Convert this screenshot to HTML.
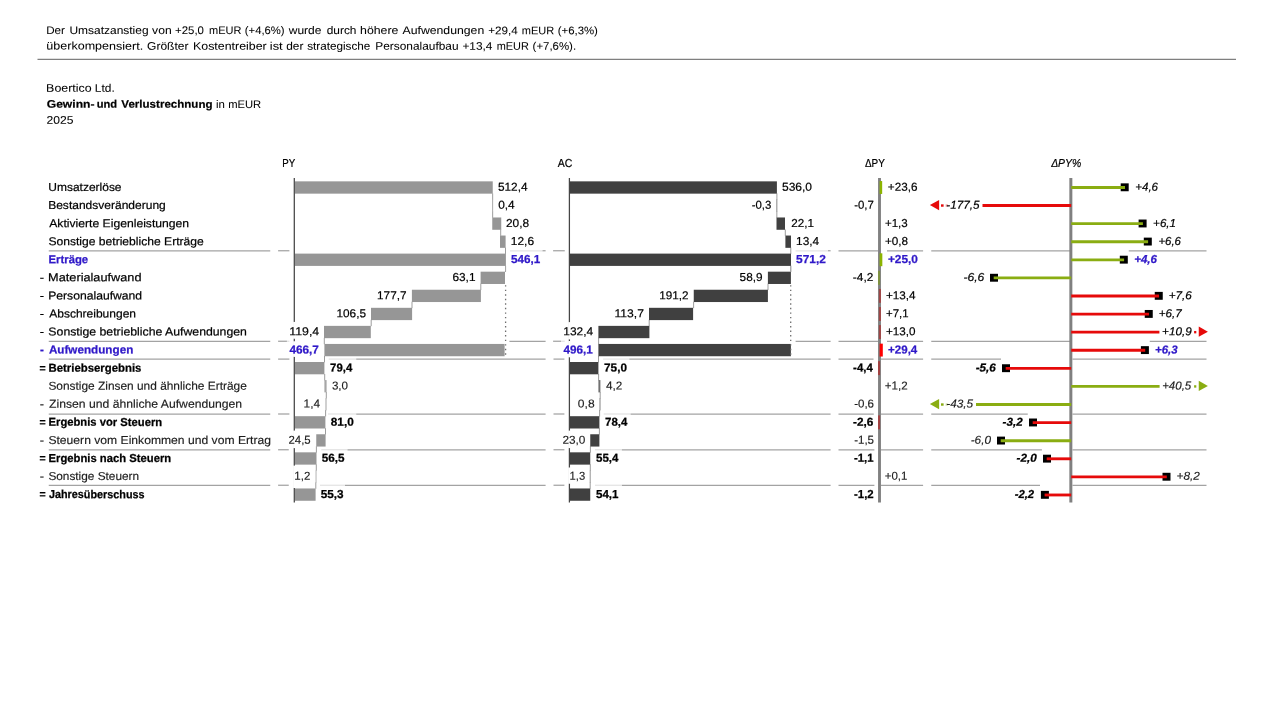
<!DOCTYPE html>
<html lang="de">
<head>
<meta charset="utf-8">
<title>Boertico Ltd. – Gewinn- und Verlustrechnung 2025</title>
<style>
html,body{margin:0;padding:0;background:#fff;}
body{width:1280px;height:720px;overflow:hidden;}
svg{display:block;font-family:"Liberation Sans",sans-serif;font-size:11.5px;fill:#000;}
svg text{white-space:pre;stroke:#000;stroke-width:0.2px;}
svg text[font-weight="700"],svg tspan[font-weight="700"]{stroke-width:0.25px;}
svg text.hl{fill:#2F18C8;stroke:#2F18C8;}
svg text.hd{stroke-width:0.05px;}
svg text.hd tspan[font-weight="700"]{stroke-width:0.2px;}
svg text.lt{fill:#1c1c1c;stroke:#1c1c1c;stroke-width:0.15px;}
</style>
</head>
<body>
<svg width="1280" height="720" viewBox="0 0 1280 720">
<rect width="1280" height="720" fill="#fff"/>
<g class="sep">
<line x1="48.75" y1="250.75" x2="270.25" y2="250.75" stroke="#a3a3a3" stroke-width="1.25"/>
<line x1="278.10" y1="250.75" x2="289.40" y2="250.75" stroke="#a3a3a3" stroke-width="1.25"/>
<line x1="510.00" y1="250.75" x2="542.50" y2="250.75" stroke="#a3a3a3" stroke-width="1.25" stroke-opacity="0.3"/>
<line x1="542.50" y1="250.75" x2="545.60" y2="250.75" stroke="#a3a3a3" stroke-width="1.25"/>
<line x1="553.10" y1="250.75" x2="564.75" y2="250.75" stroke="#a3a3a3" stroke-width="1.25"/>
<line x1="795.60" y1="250.75" x2="828.00" y2="250.75" stroke="#a3a3a3" stroke-width="1.25" stroke-opacity="0.3"/>
<line x1="828.00" y1="250.75" x2="830.60" y2="250.75" stroke="#a3a3a3" stroke-width="1.25"/>
<line x1="838.50" y1="250.75" x2="878.00" y2="250.75" stroke="#a3a3a3" stroke-width="1.25"/>
<line x1="887.00" y1="250.75" x2="923.10" y2="250.75" stroke="#a3a3a3" stroke-width="1.25"/>
<line x1="931.25" y1="250.75" x2="1070.00" y2="250.75" stroke="#a3a3a3" stroke-width="1.25"/>
<line x1="1128.75" y1="250.75" x2="1206.50" y2="250.75" stroke="#a3a3a3" stroke-width="1.25"/>
<line x1="48.75" y1="341.25" x2="270.25" y2="341.25" stroke="#a3a3a3" stroke-width="1.25"/>
<line x1="278.10" y1="341.25" x2="286.90" y2="341.25" stroke="#a3a3a3" stroke-width="1.25"/>
<line x1="286.90" y1="341.25" x2="289.40" y2="341.25" stroke="#a3a3a3" stroke-width="1.25" stroke-opacity="0.3"/>
<line x1="509.40" y1="341.25" x2="545.60" y2="341.25" stroke="#a3a3a3" stroke-width="1.25"/>
<line x1="553.10" y1="341.25" x2="561.00" y2="341.25" stroke="#a3a3a3" stroke-width="1.25"/>
<line x1="561.00" y1="341.25" x2="564.75" y2="341.25" stroke="#a3a3a3" stroke-width="1.25" stroke-opacity="0.3"/>
<line x1="795.60" y1="341.25" x2="830.60" y2="341.25" stroke="#a3a3a3" stroke-width="1.25"/>
<line x1="838.50" y1="341.25" x2="878.00" y2="341.25" stroke="#a3a3a3" stroke-width="1.25"/>
<line x1="887.00" y1="341.25" x2="923.10" y2="341.25" stroke="#a3a3a3" stroke-width="1.25"/>
<line x1="931.25" y1="341.25" x2="1070.00" y2="341.25" stroke="#a3a3a3" stroke-width="1.25"/>
<line x1="1149.75" y1="341.25" x2="1206.50" y2="341.25" stroke="#a3a3a3" stroke-width="1.25"/>
<line x1="48.75" y1="359.10" x2="270.25" y2="359.10" stroke="#a3a3a3" stroke-width="1.25"/>
<line x1="278.10" y1="359.10" x2="289.40" y2="359.10" stroke="#a3a3a3" stroke-width="1.25"/>
<line x1="328.75" y1="359.10" x2="356.25" y2="359.10" stroke="#a3a3a3" stroke-width="1.25" stroke-opacity="0.3"/>
<line x1="356.25" y1="359.10" x2="545.60" y2="359.10" stroke="#a3a3a3" stroke-width="1.25"/>
<line x1="553.50" y1="359.10" x2="564.40" y2="359.10" stroke="#a3a3a3" stroke-width="1.25"/>
<line x1="603.10" y1="359.10" x2="629.40" y2="359.10" stroke="#a3a3a3" stroke-width="1.25" stroke-opacity="0.3"/>
<line x1="629.40" y1="359.10" x2="830.60" y2="359.10" stroke="#a3a3a3" stroke-width="1.25"/>
<line x1="838.50" y1="359.10" x2="873.50" y2="359.10" stroke="#a3a3a3" stroke-width="1.25"/>
<line x1="881.00" y1="359.10" x2="923.10" y2="359.10" stroke="#a3a3a3" stroke-width="1.25"/>
<line x1="931.25" y1="359.10" x2="1001.00" y2="359.10" stroke="#a3a3a3" stroke-width="1.25"/>
<line x1="1072.50" y1="359.10" x2="1206.50" y2="359.10" stroke="#a3a3a3" stroke-width="1.25"/>
<line x1="48.75" y1="414.00" x2="270.25" y2="414.00" stroke="#a3a3a3" stroke-width="1.25"/>
<line x1="278.10" y1="414.00" x2="289.40" y2="414.00" stroke="#a3a3a3" stroke-width="1.25"/>
<line x1="328.00" y1="414.00" x2="356.25" y2="414.00" stroke="#a3a3a3" stroke-width="1.25" stroke-opacity="0.3"/>
<line x1="356.25" y1="414.00" x2="545.60" y2="414.00" stroke="#a3a3a3" stroke-width="1.25"/>
<line x1="553.50" y1="414.00" x2="564.40" y2="414.00" stroke="#a3a3a3" stroke-width="1.25"/>
<line x1="603.75" y1="414.00" x2="630.60" y2="414.00" stroke="#a3a3a3" stroke-width="1.25" stroke-opacity="0.3"/>
<line x1="630.60" y1="414.00" x2="830.60" y2="414.00" stroke="#a3a3a3" stroke-width="1.25"/>
<line x1="838.50" y1="414.00" x2="873.75" y2="414.00" stroke="#a3a3a3" stroke-width="1.25"/>
<line x1="881.00" y1="414.00" x2="923.10" y2="414.00" stroke="#a3a3a3" stroke-width="1.25"/>
<line x1="931.25" y1="414.00" x2="1027.75" y2="414.00" stroke="#a3a3a3" stroke-width="1.25"/>
<line x1="1072.50" y1="414.00" x2="1206.50" y2="414.00" stroke="#a3a3a3" stroke-width="1.25"/>
<line x1="48.75" y1="449.75" x2="270.25" y2="449.75" stroke="#a3a3a3" stroke-width="1.25"/>
<line x1="278.10" y1="449.75" x2="288.75" y2="449.75" stroke="#a3a3a3" stroke-width="1.25"/>
<line x1="321.25" y1="449.75" x2="347.50" y2="449.75" stroke="#a3a3a3" stroke-width="1.25" stroke-opacity="0.3"/>
<line x1="347.50" y1="449.75" x2="545.60" y2="449.75" stroke="#a3a3a3" stroke-width="1.25"/>
<line x1="553.50" y1="449.75" x2="564.40" y2="449.75" stroke="#a3a3a3" stroke-width="1.25"/>
<line x1="595.00" y1="449.75" x2="621.90" y2="449.75" stroke="#a3a3a3" stroke-width="1.25" stroke-opacity="0.3"/>
<line x1="621.90" y1="449.75" x2="830.60" y2="449.75" stroke="#a3a3a3" stroke-width="1.25"/>
<line x1="838.50" y1="449.75" x2="874.40" y2="449.75" stroke="#a3a3a3" stroke-width="1.25"/>
<line x1="881.00" y1="449.75" x2="923.10" y2="449.75" stroke="#a3a3a3" stroke-width="1.25"/>
<line x1="931.25" y1="449.75" x2="1041.90" y2="449.75" stroke="#a3a3a3" stroke-width="1.25"/>
<line x1="1072.50" y1="449.75" x2="1206.50" y2="449.75" stroke="#a3a3a3" stroke-width="1.25"/>
<line x1="48.75" y1="485.25" x2="270.25" y2="485.25" stroke="#a3a3a3" stroke-width="1.25"/>
<line x1="278.10" y1="485.25" x2="288.75" y2="485.25" stroke="#a3a3a3" stroke-width="1.25"/>
<line x1="320.00" y1="485.25" x2="345.00" y2="485.25" stroke="#a3a3a3" stroke-width="1.25" stroke-opacity="0.3"/>
<line x1="345.00" y1="485.25" x2="545.60" y2="485.25" stroke="#a3a3a3" stroke-width="1.25"/>
<line x1="553.50" y1="485.25" x2="564.40" y2="485.25" stroke="#a3a3a3" stroke-width="1.25"/>
<line x1="595.00" y1="485.25" x2="621.90" y2="485.25" stroke="#a3a3a3" stroke-width="1.25" stroke-opacity="0.3"/>
<line x1="621.90" y1="485.25" x2="830.60" y2="485.25" stroke="#a3a3a3" stroke-width="1.25"/>
<line x1="838.50" y1="485.25" x2="874.40" y2="485.25" stroke="#a3a3a3" stroke-width="1.25"/>
<line x1="881.00" y1="485.25" x2="923.10" y2="485.25" stroke="#a3a3a3" stroke-width="1.25"/>
<line x1="931.25" y1="485.25" x2="1040.00" y2="485.25" stroke="#a3a3a3" stroke-width="1.25"/>
<line x1="1072.50" y1="485.25" x2="1206.50" y2="485.25" stroke="#a3a3a3" stroke-width="1.25"/>
</g>
<g class="shape">
<line x1="37.50" y1="59.40" x2="1236.00" y2="59.40" stroke="#7f7f7f" stroke-width="1.1"/>
<line x1="492.65" y1="193.35" x2="492.65" y2="199.72" stroke="#929292" stroke-width="0.9"/>
<line x1="492.65" y1="211.41" x2="492.65" y2="217.78" stroke="#929292" stroke-width="0.9"/>
<line x1="500.70" y1="229.48" x2="500.70" y2="235.84" stroke="#929292" stroke-width="0.9"/>
<line x1="505.50" y1="247.54" x2="505.50" y2="253.91" stroke="#929292" stroke-width="0.9"/>
<line x1="505.50" y1="265.61" x2="505.50" y2="271.98" stroke="#929292" stroke-width="0.9"/>
<line x1="480.80" y1="283.67" x2="480.80" y2="290.04" stroke="#929292" stroke-width="0.9"/>
<line x1="412.00" y1="301.74" x2="412.00" y2="308.11" stroke="#929292" stroke-width="0.9"/>
<line x1="371.20" y1="319.81" x2="371.20" y2="326.17" stroke="#929292" stroke-width="0.9"/>
<line x1="324.30" y1="337.87" x2="324.30" y2="344.24" stroke="#929292" stroke-width="0.9"/>
<line x1="324.50" y1="355.94" x2="324.50" y2="362.30" stroke="#929292" stroke-width="0.9"/>
<line x1="324.70" y1="374.00" x2="324.70" y2="380.37" stroke="#929292" stroke-width="0.9"/>
<line x1="326.30" y1="392.06" x2="326.30" y2="398.43" stroke="#929292" stroke-width="0.9"/>
<line x1="325.60" y1="410.13" x2="325.60" y2="416.50" stroke="#929292" stroke-width="0.9"/>
<line x1="325.50" y1="428.19" x2="325.50" y2="434.56" stroke="#929292" stroke-width="0.9"/>
<line x1="316.40" y1="446.26" x2="316.40" y2="452.63" stroke="#929292" stroke-width="0.9"/>
<line x1="316.30" y1="464.32" x2="316.30" y2="470.69" stroke="#929292" stroke-width="0.9"/>
<line x1="315.80" y1="482.39" x2="315.80" y2="488.76" stroke="#929292" stroke-width="0.9"/>
<rect x="294.90" y="181.35" width="197.85" height="12.30" fill="#969696"/>
<rect x="492.20" y="199.41" width="0.90" height="12.30" fill="#969696" fill-opacity="0.9"/>
<rect x="492.25" y="217.48" width="9.00" height="12.30" fill="#969696"/>
<rect x="500.00" y="235.54" width="5.60" height="12.30" fill="#969696"/>
<rect x="294.90" y="253.61" width="211.00" height="12.30" fill="#969696"/>
<rect x="480.60" y="271.68" width="24.40" height="12.30" fill="#969696"/>
<rect x="411.90" y="289.74" width="69.00" height="12.30" fill="#969696"/>
<rect x="371.00" y="307.81" width="41.10" height="12.30" fill="#969696"/>
<rect x="324.00" y="325.87" width="46.80" height="12.30" fill="#969696"/>
<rect x="324.40" y="343.94" width="180.20" height="12.30" fill="#969696"/>
<rect x="294.90" y="362.00" width="29.50" height="12.30" fill="#969696"/>
<rect x="324.40" y="380.07" width="2.20" height="12.30" fill="#969696" fill-opacity="0.85"/>
<rect x="325.20" y="398.13" width="1.60" height="12.30" fill="#969696" fill-opacity="0.55"/>
<rect x="294.90" y="416.20" width="30.50" height="12.30" fill="#969696"/>
<rect x="316.25" y="434.26" width="9.35" height="12.30" fill="#969696"/>
<rect x="294.90" y="452.33" width="21.60" height="12.30" fill="#969696"/>
<rect x="315.40" y="470.39" width="1.30" height="12.30" fill="#969696" fill-opacity="0.55"/>
<rect x="294.90" y="488.46" width="20.70" height="12.30" fill="#969696"/>
<line x1="505.60" y1="285.17" x2="505.60" y2="356.74" stroke="#6e6e6e" stroke-width="1.3" stroke-dasharray="1.4 3.14"/>
<line x1="505.60" y1="265.91" x2="505.60" y2="271.68" stroke="#a8a8a8" stroke-width="1"/>
<line x1="776.90" y1="193.35" x2="776.90" y2="199.72" stroke="#929292" stroke-width="0.9"/>
<line x1="776.85" y1="211.41" x2="776.85" y2="217.78" stroke="#929292" stroke-width="0.9"/>
<line x1="785.30" y1="229.48" x2="785.30" y2="235.84" stroke="#929292" stroke-width="0.9"/>
<line x1="790.80" y1="247.54" x2="790.80" y2="253.91" stroke="#929292" stroke-width="0.9"/>
<line x1="790.80" y1="265.61" x2="790.80" y2="271.98" stroke="#929292" stroke-width="0.9"/>
<line x1="768.00" y1="283.67" x2="768.00" y2="290.04" stroke="#929292" stroke-width="0.9"/>
<line x1="693.60" y1="301.74" x2="693.60" y2="308.11" stroke="#929292" stroke-width="0.9"/>
<line x1="649.20" y1="319.81" x2="649.20" y2="326.17" stroke="#929292" stroke-width="0.9"/>
<line x1="598.60" y1="337.87" x2="598.60" y2="344.24" stroke="#929292" stroke-width="0.9"/>
<line x1="598.50" y1="355.94" x2="598.50" y2="362.30" stroke="#929292" stroke-width="0.9"/>
<line x1="598.60" y1="374.00" x2="598.60" y2="380.37" stroke="#929292" stroke-width="0.9"/>
<line x1="600.20" y1="392.06" x2="600.20" y2="398.43" stroke="#929292" stroke-width="0.9"/>
<line x1="599.60" y1="410.13" x2="599.60" y2="416.50" stroke="#929292" stroke-width="0.9"/>
<line x1="599.40" y1="428.19" x2="599.40" y2="434.56" stroke="#929292" stroke-width="0.9"/>
<line x1="590.40" y1="446.26" x2="590.40" y2="452.63" stroke="#929292" stroke-width="0.9"/>
<line x1="590.30" y1="464.32" x2="590.30" y2="470.69" stroke="#929292" stroke-width="0.9"/>
<line x1="590.20" y1="482.39" x2="590.20" y2="488.76" stroke="#929292" stroke-width="0.9"/>
<rect x="569.90" y="181.35" width="207.00" height="12.30" fill="#404040"/>
<rect x="776.40" y="199.41" width="0.90" height="12.30" fill="#404040" fill-opacity="0.7"/>
<rect x="776.50" y="217.48" width="8.50" height="12.30" fill="#404040"/>
<rect x="785.40" y="235.54" width="5.60" height="12.30" fill="#404040"/>
<rect x="569.90" y="253.61" width="221.10" height="12.30" fill="#404040"/>
<rect x="767.90" y="271.68" width="23.00" height="12.30" fill="#404040"/>
<rect x="693.75" y="289.74" width="74.15" height="12.30" fill="#404040"/>
<rect x="649.00" y="307.81" width="44.10" height="12.30" fill="#404040"/>
<rect x="598.40" y="325.87" width="51.00" height="12.30" fill="#404040"/>
<rect x="598.40" y="343.94" width="192.50" height="12.30" fill="#404040"/>
<rect x="569.90" y="362.00" width="28.50" height="12.30" fill="#404040"/>
<rect x="598.40" y="380.07" width="2.00" height="12.30" fill="#404040" fill-opacity="0.75"/>
<rect x="599.40" y="398.13" width="1.20" height="12.30" fill="#404040" fill-opacity="0.55"/>
<rect x="569.90" y="416.20" width="29.50" height="12.30" fill="#404040"/>
<rect x="590.25" y="434.26" width="9.15" height="12.30" fill="#404040"/>
<rect x="569.90" y="452.33" width="20.35" height="12.30" fill="#404040"/>
<rect x="589.70" y="470.39" width="1.00" height="12.30" fill="#404040" fill-opacity="0.55"/>
<rect x="569.90" y="488.46" width="20.35" height="12.30" fill="#404040"/>
<line x1="790.70" y1="285.17" x2="790.70" y2="356.74" stroke="#6e6e6e" stroke-width="1.3" stroke-dasharray="1.4 3.14"/>
<line x1="790.70" y1="265.91" x2="790.70" y2="271.68" stroke="#a8a8a8" stroke-width="1"/>
</g>
<g class="axis">
<line x1="294.30" y1="178.00" x2="294.30" y2="502.50" stroke="#454545" stroke-width="1.25"/>
<line x1="569.40" y1="178.00" x2="569.40" y2="502.50" stroke="#454545" stroke-width="1.25"/>
<line x1="879.50" y1="178.00" x2="879.50" y2="502.50" stroke="#808080" stroke-width="2.9"/>
<rect x="879.60" y="181.05" width="2.57" height="12.90" fill="#8CB400"/>
<rect x="879.60" y="253.31" width="2.73" height="12.90" fill="#8CB400"/>
<rect x="878.00" y="270.88" width="2.10" height="13.90" fill="#7aa000" fill-opacity="0.5"/>
<rect x="878.90" y="288.94" width="2.10" height="13.90" fill="#c00000" fill-opacity="0.45"/>
<rect x="878.90" y="307.01" width="2.10" height="13.90" fill="#c00000" fill-opacity="0.45"/>
<rect x="878.90" y="325.07" width="2.10" height="13.90" fill="#c00000" fill-opacity="0.45"/>
<rect x="879.60" y="343.64" width="3.20" height="12.90" fill="#FF0000"/>
<rect x="878.00" y="361.20" width="2.10" height="13.90" fill="#c00000" fill-opacity="0.5"/>
<rect x="878.00" y="415.40" width="2.10" height="13.90" fill="#c00000" fill-opacity="0.5"/>
<line x1="1070.85" y1="178.00" x2="1070.85" y2="502.50" stroke="#808080" stroke-width="3.0"/>
<rect x="1120.70" y="183.35" width="8.00" height="7.90" fill="#000"/>
<line x1="1071.20" y1="187.45" x2="1125.00" y2="187.45" stroke="#8AAD12" stroke-width="2.85"/>
<line x1="982.50" y1="205.54" x2="1071.20" y2="205.54" stroke="#E60A0A" stroke-width="2.85"/>
<rect x="941.00" y="204.34" width="2.60" height="2.40" fill="#E60A0A"/>
<rect x="945.60" y="204.34" width="2.40" height="2.40" fill="#E60A0A" fill-opacity="0.35"/>
<path d="M939.1 199.94 L929.9 205.04 L939.1 210.14 Z" fill="#E60A0A"/>
<rect x="1138.60" y="219.53" width="8.00" height="7.90" fill="#000"/>
<line x1="1071.20" y1="223.63" x2="1142.90" y2="223.63" stroke="#8AAD12" stroke-width="2.85"/>
<rect x="1143.80" y="237.62" width="8.00" height="7.90" fill="#000"/>
<line x1="1071.20" y1="241.72" x2="1148.10" y2="241.72" stroke="#8AAD12" stroke-width="2.85"/>
<rect x="1119.80" y="255.71" width="8.00" height="7.90" fill="#000"/>
<line x1="1071.20" y1="259.81" x2="1124.10" y2="259.81" stroke="#8AAD12" stroke-width="2.85"/>
<rect x="990.00" y="273.80" width="8.00" height="7.90" fill="#000"/>
<line x1="993.70" y1="277.90" x2="1071.20" y2="277.90" stroke="#8AAD12" stroke-width="2.85"/>
<rect x="1154.75" y="291.89" width="8.00" height="7.90" fill="#000"/>
<line x1="1071.20" y1="295.99" x2="1159.05" y2="295.99" stroke="#E60A0A" stroke-width="2.85"/>
<rect x="1144.75" y="309.98" width="8.00" height="7.90" fill="#000"/>
<line x1="1071.20" y1="314.08" x2="1149.05" y2="314.08" stroke="#E60A0A" stroke-width="2.85"/>
<line x1="1071.20" y1="332.17" x2="1159.40" y2="332.17" stroke="#E60A0A" stroke-width="2.85"/>
<rect x="1194.10" y="330.97" width="2.20" height="2.40" fill="#E60A0A"/>
<path d="M1198.75 326.57 L1207.9 331.67 L1198.75 336.77 Z" fill="#E60A0A"/>
<rect x="1140.90" y="346.16" width="8.00" height="7.90" fill="#000"/>
<line x1="1071.20" y1="350.26" x2="1145.20" y2="350.26" stroke="#E60A0A" stroke-width="2.85"/>
<rect x="1002.00" y="364.25" width="8.00" height="7.90" fill="#000"/>
<line x1="1005.70" y1="368.35" x2="1071.20" y2="368.35" stroke="#E60A0A" stroke-width="2.85"/>
<line x1="1071.20" y1="386.44" x2="1159.60" y2="386.44" stroke="#8AAD12" stroke-width="2.85"/>
<rect x="1194.10" y="385.24" width="2.20" height="2.40" fill="#8AAD12"/>
<path d="M1198.75 380.84 L1207.9 385.94 L1198.75 391.04 Z" fill="#8AAD12"/>
<line x1="976.00" y1="404.53" x2="1071.20" y2="404.53" stroke="#8AAD12" stroke-width="2.85"/>
<rect x="941.00" y="403.33" width="2.60" height="2.40" fill="#8AAD12"/>
<rect x="945.60" y="403.33" width="2.40" height="2.40" fill="#8AAD12" fill-opacity="0.35"/>
<path d="M939.1 398.93 L929.9 404.03 L939.1 409.13 Z" fill="#8AAD12"/>
<rect x="1029.00" y="418.52" width="8.00" height="7.90" fill="#000"/>
<line x1="1032.70" y1="422.62" x2="1071.20" y2="422.62" stroke="#E60A0A" stroke-width="2.85"/>
<rect x="997.00" y="436.61" width="8.00" height="7.90" fill="#000"/>
<line x1="1000.70" y1="440.71" x2="1071.20" y2="440.71" stroke="#8AAD12" stroke-width="2.85"/>
<rect x="1043.00" y="454.70" width="8.00" height="7.90" fill="#000"/>
<line x1="1046.70" y1="458.80" x2="1071.20" y2="458.80" stroke="#E60A0A" stroke-width="2.85"/>
<rect x="1162.50" y="472.79" width="8.00" height="7.90" fill="#000"/>
<line x1="1071.20" y1="476.89" x2="1166.80" y2="476.89" stroke="#E60A0A" stroke-width="2.85"/>
<rect x="1040.90" y="490.88" width="8.00" height="7.90" fill="#000"/>
<line x1="1044.60" y1="494.98" x2="1071.20" y2="494.98" stroke="#E60A0A" stroke-width="2.85"/>
</g>
<g class="box">
<rect x="293.10" y="321.90" width="2.40" height="16.85" fill="#fff"/>
<rect x="293.10" y="341.25" width="2.40" height="15.65" fill="#fff"/>
<rect x="293.10" y="430.60" width="2.40" height="17.50" fill="#fff"/>
<rect x="293.10" y="465.60" width="2.40" height="22.40" fill="#fff"/>
<rect x="568.20" y="322.10" width="2.40" height="17.30" fill="#fff"/>
<rect x="568.20" y="341.00" width="2.40" height="16.30" fill="#fff"/>
<rect x="568.20" y="430.60" width="2.40" height="17.50" fill="#fff"/>
<rect x="568.20" y="467.50" width="2.40" height="16.25" fill="#fff"/>
</g>
<g class="text">
<text class="hd" y="33.9" transform="rotate(0.03 46 33.9)" font-size="11"><tspan x="46.16" textLength="18.74" lengthAdjust="spacingAndGlyphs">Der</tspan> <tspan x="69.44" textLength="79.13" lengthAdjust="spacingAndGlyphs">Umsatzanstieg</tspan> <tspan x="152.08" textLength="19.56" lengthAdjust="spacingAndGlyphs">von</tspan> <tspan x="175.11" textLength="28.86" lengthAdjust="spacingAndGlyphs">+25,0</tspan> <tspan x="208.97" textLength="32.40" lengthAdjust="spacingAndGlyphs">mEUR</tspan> <tspan x="244.83" textLength="39.79" lengthAdjust="spacingAndGlyphs">(+4,6%)</tspan> <tspan x="288.77" textLength="32.70" lengthAdjust="spacingAndGlyphs">wurde</tspan> <tspan x="326.71" textLength="29.79" lengthAdjust="spacingAndGlyphs">durch</tspan> <tspan x="360.05" textLength="38.36" lengthAdjust="spacingAndGlyphs">höhere</tspan> <tspan x="402.50" textLength="81.73" lengthAdjust="spacingAndGlyphs">Aufwendungen</tspan> <tspan x="488.20" textLength="29.54" lengthAdjust="spacingAndGlyphs">+29,4</tspan> <tspan x="521.77" textLength="32.40" lengthAdjust="spacingAndGlyphs">mEUR</tspan> <tspan x="557.73" textLength="40.19" lengthAdjust="spacingAndGlyphs">(+6,3%)</tspan></text>
<text class="hd" y="49.6" transform="rotate(0.03 46 49.6)" font-size="11"><tspan x="46.37" textLength="96.77" lengthAdjust="spacingAndGlyphs">überkompensiert.</tspan> <tspan x="147.10" textLength="41.35" lengthAdjust="spacingAndGlyphs">Größter</tspan> <tspan x="193.03" textLength="73.68" lengthAdjust="spacingAndGlyphs">Kostentreiber</tspan> <tspan x="269.88" textLength="12.78" lengthAdjust="spacingAndGlyphs">ist</tspan> <tspan x="286.21" textLength="17.15" lengthAdjust="spacingAndGlyphs">der</tspan> <tspan x="307.18" textLength="63.18" lengthAdjust="spacingAndGlyphs">strategische</tspan> <tspan x="375.35" textLength="83.20" lengthAdjust="spacingAndGlyphs">Personalaufbau</tspan> <tspan x="462.40" textLength="30.04" lengthAdjust="spacingAndGlyphs">+13,4</tspan> <tspan x="496.78" textLength="32.09" lengthAdjust="spacingAndGlyphs">mEUR</tspan> <tspan x="532.63" textLength="43.44" lengthAdjust="spacingAndGlyphs">(+7,6%).</tspan></text>
<text class="hd" y="91.8" transform="rotate(0.03 46 91.8)" font-size="11"><tspan x="46.13" textLength="45.48" lengthAdjust="spacingAndGlyphs">Boertico</tspan> <tspan x="94.85" textLength="19.94" lengthAdjust="spacingAndGlyphs">Ltd.</tspan></text>
<text class="hd" y="107.8" transform="rotate(0.03 46 107.8)" font-size="11"><tspan x="46.71" textLength="47.80" lengthAdjust="spacingAndGlyphs" font-weight="700">Gewinn-</tspan> <tspan x="96.67" textLength="20.46" lengthAdjust="spacingAndGlyphs" font-weight="700">und</tspan> <tspan x="121.37" textLength="91.19" lengthAdjust="spacingAndGlyphs" font-weight="700">Verlustrechnung</tspan> <tspan x="216.05" textLength="8.87" lengthAdjust="spacingAndGlyphs">in</tspan> <tspan x="228.17" textLength="33.01" lengthAdjust="spacingAndGlyphs">mEUR</tspan></text>
<text class="hd" y="123.8" transform="rotate(0.03 46 123.8)" font-size="11"><tspan x="46.63" textLength="26.92" lengthAdjust="spacingAndGlyphs">2025</tspan></text>
<text x="282.34" y="166.90" transform="rotate(0.03 282.34 166.90)" textLength="12.96" lengthAdjust="spacingAndGlyphs">PY</text>
<text x="557.81" y="166.90" transform="rotate(0.03 557.81 166.90)" textLength="14.60" lengthAdjust="spacingAndGlyphs">AC</text>
<text x="864.96" y="166.90" transform="rotate(0.03 864.96 166.90)" textLength="19.93" lengthAdjust="spacingAndGlyphs">ΔPY</text>
<text x="1051.13" y="166.90" transform="rotate(0.03 1051.13 166.90)" textLength="30.17" lengthAdjust="spacingAndGlyphs" font-style="italic">ΔPY%</text>
<text x="48.34" y="191.00" transform="rotate(0.03 48.34 191.00)" textLength="73.22" lengthAdjust="spacingAndGlyphs">Umsatzerlöse</text>
<text x="48.18" y="209.06" transform="rotate(0.03 48.18 209.06)" textLength="117.61" lengthAdjust="spacingAndGlyphs">Bestandsveränderung</text>
<text x="49.23" y="227.13" transform="rotate(0.03 49.23 227.13)" textLength="139.92" lengthAdjust="spacingAndGlyphs">Aktivierte Eigenleistungen</text>
<text x="48.40" y="245.19" transform="rotate(0.03 48.40 245.19)" textLength="155.34" lengthAdjust="spacingAndGlyphs">Sonstige betriebliche Erträge</text>
<text x="48.53" y="263.26" transform="rotate(0.03 48.53 263.26)" textLength="39.66" lengthAdjust="spacingAndGlyphs" font-weight="700" class="hl">Erträge</text>
<text x="39.75" y="281.32" transform="rotate(0.03 39.75 281.32)" textLength="4.32" lengthAdjust="spacingAndGlyphs">-</text>
<text x="48.14" y="281.32" transform="rotate(0.03 48.14 281.32)" textLength="93.35" lengthAdjust="spacingAndGlyphs">Materialaufwand</text>
<text x="39.75" y="299.39" transform="rotate(0.03 39.75 299.39)" textLength="4.32" lengthAdjust="spacingAndGlyphs">-</text>
<text x="48.17" y="299.39" transform="rotate(0.03 48.17 299.39)" textLength="93.95" lengthAdjust="spacingAndGlyphs">Personalaufwand</text>
<text x="39.75" y="317.46" transform="rotate(0.03 39.75 317.46)" textLength="4.32" lengthAdjust="spacingAndGlyphs">-</text>
<text x="49.22" y="317.46" transform="rotate(0.03 49.22 317.46)" textLength="86.78" lengthAdjust="spacingAndGlyphs">Abschreibungen</text>
<text x="39.75" y="335.52" transform="rotate(0.03 39.75 335.52)" textLength="4.32" lengthAdjust="spacingAndGlyphs">-</text>
<text x="48.39" y="335.52" transform="rotate(0.03 48.39 335.52)" textLength="198.55" lengthAdjust="spacingAndGlyphs">Sonstige betriebliche Aufwendungen</text>
<text x="39.99" y="353.59" transform="rotate(0.03 39.99 353.59)" textLength="3.89" lengthAdjust="spacingAndGlyphs" font-weight="700" class="hl">-</text>
<text x="48.92" y="353.59" transform="rotate(0.03 48.92 353.59)" textLength="84.38" lengthAdjust="spacingAndGlyphs" font-weight="700" class="hl">Aufwendungen</text>
<text x="39.51" y="371.65" transform="rotate(0.03 39.51 371.65)" textLength="6.12" lengthAdjust="spacingAndGlyphs" font-weight="700">=</text>
<text x="48.53" y="371.65" transform="rotate(0.03 48.53 371.65)" textLength="92.87" lengthAdjust="spacingAndGlyphs" font-weight="700">Betriebsergebnis</text>
<text x="48.40" y="389.72" transform="rotate(0.03 48.40 389.72)" textLength="198.37" lengthAdjust="spacingAndGlyphs" class="lt">Sonstige Zinsen und ähnliche Erträge</text>
<text x="39.75" y="407.78" transform="rotate(0.03 39.75 407.78)" textLength="4.32" lengthAdjust="spacingAndGlyphs" class="lt">-</text>
<text x="49.03" y="407.78" transform="rotate(0.03 49.03 407.78)" textLength="193.10" lengthAdjust="spacingAndGlyphs" class="lt">Zinsen und ähnliche Aufwendungen</text>
<text x="39.51" y="425.85" transform="rotate(0.03 39.51 425.85)" textLength="6.12" lengthAdjust="spacingAndGlyphs" font-weight="700">=</text>
<text x="48.53" y="425.85" transform="rotate(0.03 48.53 425.85)" textLength="113.70" lengthAdjust="spacingAndGlyphs" font-weight="700">Ergebnis vor Steuern</text>
<text x="39.75" y="443.91" transform="rotate(0.03 39.75 443.91)" textLength="4.32" lengthAdjust="spacingAndGlyphs" class="lt">-</text>
<text x="48.40" y="443.91" transform="rotate(0.03 48.40 443.91)" textLength="222.54" lengthAdjust="spacingAndGlyphs" class="lt">Steuern vom Einkommen und vom Ertrag</text>
<text x="39.51" y="461.98" transform="rotate(0.03 39.51 461.98)" textLength="6.12" lengthAdjust="spacingAndGlyphs" font-weight="700">=</text>
<text x="48.53" y="461.98" transform="rotate(0.03 48.53 461.98)" textLength="122.66" lengthAdjust="spacingAndGlyphs" font-weight="700">Ergebnis nach Steuern</text>
<text x="39.75" y="480.04" transform="rotate(0.03 39.75 480.04)" textLength="4.32" lengthAdjust="spacingAndGlyphs" class="lt">-</text>
<text x="48.40" y="480.04" transform="rotate(0.03 48.40 480.04)" textLength="90.71" lengthAdjust="spacingAndGlyphs" class="lt">Sonstige Steuern</text>
<text x="39.51" y="498.11" transform="rotate(0.03 39.51 498.11)" textLength="6.12" lengthAdjust="spacingAndGlyphs" font-weight="700">=</text>
<text x="48.93" y="498.11" transform="rotate(0.03 48.93 498.11)" textLength="95.63" lengthAdjust="spacingAndGlyphs" font-weight="700">Jahresüberschuss</text>
<text x="497.97" y="190.80" transform="rotate(0.03 497.97 190.80)" textLength="29.59" lengthAdjust="spacingAndGlyphs">512,4</text>
<text x="498.22" y="208.87" transform="rotate(0.03 498.22 208.87)" textLength="16.47" lengthAdjust="spacingAndGlyphs">0,4</text>
<text x="505.98" y="226.93" transform="rotate(0.03 505.98 226.93)" textLength="23.16" lengthAdjust="spacingAndGlyphs">20,8</text>
<text x="510.82" y="245.00" transform="rotate(0.03 510.82 245.00)" textLength="23.23" lengthAdjust="spacingAndGlyphs">12,6</text>
<text x="511.09" y="263.06" transform="rotate(0.03 511.09 263.06)" textLength="29.20" lengthAdjust="spacingAndGlyphs" font-weight="700" class="hl">546,1</text>
<text x="452.46" y="281.12" transform="rotate(0.03 452.46 281.12)" textLength="23.04" lengthAdjust="spacingAndGlyphs">63,1</text>
<text x="377.07" y="299.19" transform="rotate(0.03 377.07 299.19)" textLength="29.44" lengthAdjust="spacingAndGlyphs">177,7</text>
<text x="336.47" y="317.25" transform="rotate(0.03 336.47 317.25)" textLength="29.49" lengthAdjust="spacingAndGlyphs">106,5</text>
<text x="289.30" y="335.32" transform="rotate(0.03 289.30 335.32)" textLength="29.93" lengthAdjust="spacingAndGlyphs">119,4</text>
<text x="289.46" y="353.38" transform="rotate(0.03 289.46 353.38)" textLength="29.45" lengthAdjust="spacingAndGlyphs" font-weight="700" class="hl">466,7</text>
<text x="330.10" y="371.45" transform="rotate(0.03 330.10 371.45)" textLength="22.12" lengthAdjust="spacingAndGlyphs" font-weight="700">79,4</text>
<text x="331.90" y="389.51" transform="rotate(0.03 331.90 389.51)" textLength="16.13" lengthAdjust="spacingAndGlyphs" class="lt">3,0</text>
<text x="303.57" y="407.58" transform="rotate(0.03 303.57 407.58)" textLength="16.47" lengthAdjust="spacingAndGlyphs" class="lt">1,4</text>
<text x="330.82" y="425.65" transform="rotate(0.03 330.82 425.65)" textLength="22.97" lengthAdjust="spacingAndGlyphs" font-weight="700">81,0</text>
<text x="288.48" y="443.71" transform="rotate(0.03 288.48 443.71)" textLength="22.16" lengthAdjust="spacingAndGlyphs" class="lt">24,5</text>
<text x="321.69" y="461.78" transform="rotate(0.03 321.69 461.78)" textLength="22.75" lengthAdjust="spacingAndGlyphs" font-weight="700">56,5</text>
<text x="294.33" y="479.84" transform="rotate(0.03 294.33 479.84)" textLength="16.02" lengthAdjust="spacingAndGlyphs" class="lt">1,2</text>
<text x="320.69" y="497.91" transform="rotate(0.03 320.69 497.91)" textLength="22.85" lengthAdjust="spacingAndGlyphs" font-weight="700">55,3</text>
<text x="781.97" y="190.80" transform="rotate(0.03 781.97 190.80)" textLength="30.04" lengthAdjust="spacingAndGlyphs">536,0</text>
<text x="751.68" y="208.87" transform="rotate(0.03 751.68 208.87)" textLength="19.61" lengthAdjust="spacingAndGlyphs">-0,3</text>
<text x="791.23" y="226.93" transform="rotate(0.03 791.23 226.93)" textLength="22.77" lengthAdjust="spacingAndGlyphs">22,1</text>
<text x="796.07" y="245.00" transform="rotate(0.03 796.07 245.00)" textLength="23.08" lengthAdjust="spacingAndGlyphs">13,4</text>
<text x="796.09" y="263.06" transform="rotate(0.03 796.09 263.06)" textLength="29.78" lengthAdjust="spacingAndGlyphs" font-weight="700" class="hl">571,2</text>
<text x="739.62" y="281.12" transform="rotate(0.03 739.62 281.12)" textLength="22.92" lengthAdjust="spacingAndGlyphs">58,9</text>
<text x="659.32" y="299.19" transform="rotate(0.03 659.32 299.19)" textLength="29.31" lengthAdjust="spacingAndGlyphs">191,2</text>
<text x="614.56" y="317.25" transform="rotate(0.03 614.56 317.25)" textLength="29.37" lengthAdjust="spacingAndGlyphs">113,7</text>
<text x="563.32" y="335.32" transform="rotate(0.03 563.32 335.32)" textLength="29.85" lengthAdjust="spacingAndGlyphs">132,4</text>
<text x="563.56" y="353.38" transform="rotate(0.03 563.56 353.38)" textLength="29.23" lengthAdjust="spacingAndGlyphs" font-weight="700" class="hl">496,1</text>
<text x="604.10" y="371.45" transform="rotate(0.03 604.10 371.45)" textLength="22.84" lengthAdjust="spacingAndGlyphs" font-weight="700">75,0</text>
<text x="605.91" y="389.51" transform="rotate(0.03 605.91 389.51)" textLength="16.35" lengthAdjust="spacingAndGlyphs" class="lt">4,2</text>
<text x="577.87" y="407.58" transform="rotate(0.03 577.87 407.58)" textLength="16.74" lengthAdjust="spacingAndGlyphs" class="lt">0,8</text>
<text x="605.10" y="425.65" transform="rotate(0.03 605.10 425.65)" textLength="22.36" lengthAdjust="spacingAndGlyphs" font-weight="700">78,4</text>
<text x="562.48" y="443.71" transform="rotate(0.03 562.48 443.71)" textLength="22.96" lengthAdjust="spacingAndGlyphs" class="lt">23,0</text>
<text x="595.99" y="461.78" transform="rotate(0.03 595.99 461.78)" textLength="22.47" lengthAdjust="spacingAndGlyphs" font-weight="700">55,4</text>
<text x="569.59" y="479.84" transform="rotate(0.03 569.59 479.84)" textLength="15.61" lengthAdjust="spacingAndGlyphs" class="lt">1,3</text>
<text x="595.99" y="497.91" transform="rotate(0.03 595.99 497.91)" textLength="22.55" lengthAdjust="spacingAndGlyphs" font-weight="700">54,1</text>
<text x="887.84" y="190.80" transform="rotate(0.03 887.84 190.80)" textLength="29.65" lengthAdjust="spacingAndGlyphs">+23,6</text>
<text x="854.18" y="208.87" transform="rotate(0.03 854.18 208.87)" textLength="19.63" lengthAdjust="spacingAndGlyphs">-0,7</text>
<text x="884.99" y="226.93" transform="rotate(0.03 884.99 226.93)" textLength="22.75" lengthAdjust="spacingAndGlyphs">+1,3</text>
<text x="884.99" y="245.00" transform="rotate(0.03 884.99 245.00)" textLength="23.05" lengthAdjust="spacingAndGlyphs">+0,8</text>
<text x="887.96" y="263.06" transform="rotate(0.03 887.96 263.06)" textLength="29.99" lengthAdjust="spacingAndGlyphs" font-weight="700" class="hl">+25,0</text>
<text x="852.87" y="281.12" transform="rotate(0.03 852.87 281.12)" textLength="20.42" lengthAdjust="spacingAndGlyphs">-4,2</text>
<text x="885.99" y="299.19" transform="rotate(0.03 885.99 299.19)" textLength="29.64" lengthAdjust="spacingAndGlyphs">+13,4</text>
<text x="886.00" y="317.25" transform="rotate(0.03 886.00 317.25)" textLength="22.48" lengthAdjust="spacingAndGlyphs">+7,1</text>
<text x="885.99" y="335.32" transform="rotate(0.03 885.99 335.32)" textLength="29.52" lengthAdjust="spacingAndGlyphs">+13,0</text>
<text x="888.06" y="353.38" transform="rotate(0.03 888.06 353.38)" textLength="29.22" lengthAdjust="spacingAndGlyphs" font-weight="700" class="hl">+29,4</text>
<text x="853.09" y="371.45" transform="rotate(0.03 853.09 371.45)" textLength="19.68" lengthAdjust="spacingAndGlyphs" font-weight="700">-4,4</text>
<text x="884.74" y="389.51" transform="rotate(0.03 884.74 389.51)" textLength="22.86" lengthAdjust="spacingAndGlyphs" class="lt">+1,2</text>
<text x="854.17" y="407.58" transform="rotate(0.03 854.17 407.58)" textLength="19.85" lengthAdjust="spacingAndGlyphs" class="lt">-0,6</text>
<text x="853.09" y="425.65" transform="rotate(0.03 853.09 425.65)" textLength="20.31" lengthAdjust="spacingAndGlyphs" font-weight="700">-2,6</text>
<text x="854.17" y="443.71" transform="rotate(0.03 854.17 443.71)" textLength="19.84" lengthAdjust="spacingAndGlyphs" class="lt">-1,5</text>
<text x="853.99" y="461.78" transform="rotate(0.03 853.99 461.78)" textLength="19.50" lengthAdjust="spacingAndGlyphs" font-weight="700">-1,1</text>
<text x="884.74" y="479.84" transform="rotate(0.03 884.74 479.84)" textLength="22.63" lengthAdjust="spacingAndGlyphs" class="lt">+0,1</text>
<text x="853.99" y="497.91" transform="rotate(0.03 853.99 497.91)" textLength="19.68" lengthAdjust="spacingAndGlyphs" font-weight="700">-1,2</text>
<text x="1135.23" y="190.80" transform="rotate(0.03 1135.23 190.80)" textLength="22.84" lengthAdjust="spacingAndGlyphs" font-style="italic">+4,6</text>
<text x="946.27" y="208.87" transform="rotate(0.03 946.27 208.87)" textLength="33.20" lengthAdjust="spacingAndGlyphs" font-style="italic">-177,5</text>
<text x="1153.12" y="226.93" transform="rotate(0.03 1153.12 226.93)" textLength="22.92" lengthAdjust="spacingAndGlyphs" font-style="italic">+6,1</text>
<text x="1158.38" y="245.00" transform="rotate(0.03 1158.38 245.00)" textLength="22.59" lengthAdjust="spacingAndGlyphs" font-style="italic">+6,6</text>
<text x="1134.15" y="263.06" transform="rotate(0.03 1134.15 263.06)" textLength="22.82" lengthAdjust="spacingAndGlyphs" font-weight="700" font-style="italic" class="hl">+4,6</text>
<text x="963.41" y="281.12" transform="rotate(0.03 963.41 281.12)" textLength="20.85" lengthAdjust="spacingAndGlyphs" font-style="italic">-6,6</text>
<text x="1168.72" y="299.19" transform="rotate(0.03 1168.72 299.19)" textLength="23.15" lengthAdjust="spacingAndGlyphs" font-style="italic">+7,6</text>
<text x="1158.72" y="317.25" transform="rotate(0.03 1158.72 317.25)" textLength="22.87" lengthAdjust="spacingAndGlyphs" font-style="italic">+6,7</text>
<text x="1162.12" y="335.32" transform="rotate(0.03 1162.12 335.32)" textLength="29.53" lengthAdjust="spacingAndGlyphs" font-style="italic">+10,9</text>
<text x="1155.00" y="353.38" transform="rotate(0.03 1155.00 353.38)" textLength="22.69" lengthAdjust="spacingAndGlyphs" font-weight="700" font-style="italic" class="hl">+6,3</text>
<text x="975.66" y="371.45" transform="rotate(0.03 975.66 371.45)" textLength="20.15" lengthAdjust="spacingAndGlyphs" font-weight="700" font-style="italic">-5,6</text>
<text x="1162.13" y="389.51" transform="rotate(0.03 1162.13 389.51)" textLength="29.10" lengthAdjust="spacingAndGlyphs" font-style="italic" class="lt">+40,5</text>
<text x="946.27" y="407.58" transform="rotate(0.03 946.27 407.58)" textLength="26.86" lengthAdjust="spacingAndGlyphs" font-style="italic" class="lt">-43,5</text>
<text x="1002.56" y="425.65" transform="rotate(0.03 1002.56 425.65)" textLength="20.09" lengthAdjust="spacingAndGlyphs" font-weight="700" font-style="italic">-3,2</text>
<text x="970.67" y="443.71" transform="rotate(0.03 970.67 443.71)" textLength="20.31" lengthAdjust="spacingAndGlyphs" font-style="italic" class="lt">-6,0</text>
<text x="1016.56" y="461.78" transform="rotate(0.03 1016.56 461.78)" textLength="20.22" lengthAdjust="spacingAndGlyphs" font-weight="700" font-style="italic">-2,0</text>
<text x="1176.52" y="479.84" transform="rotate(0.03 1176.52 479.84)" textLength="23.35" lengthAdjust="spacingAndGlyphs" font-style="italic" class="lt">+8,2</text>
<text x="1014.66" y="497.91" transform="rotate(0.03 1014.66 497.91)" textLength="19.51" lengthAdjust="spacingAndGlyphs" font-weight="700" font-style="italic">-2,2</text>
</g>
</svg>
</body>
</html>
